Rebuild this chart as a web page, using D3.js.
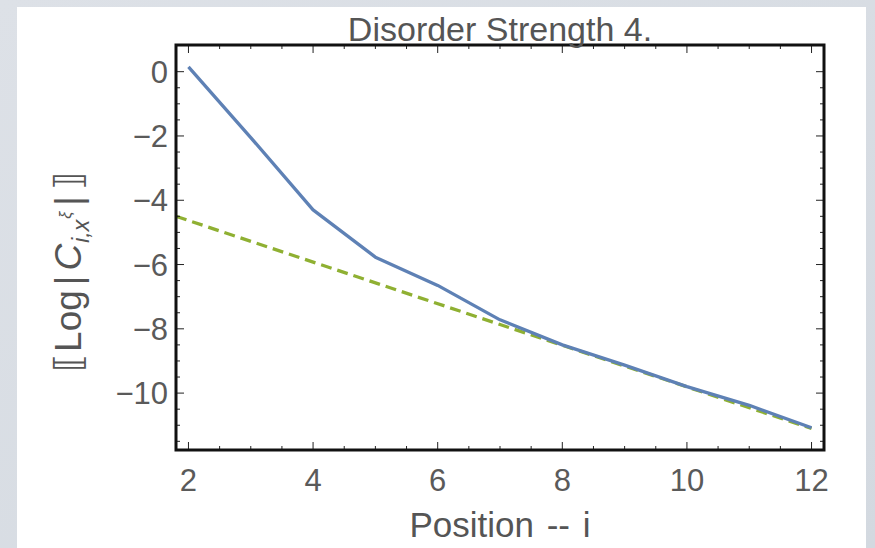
<!DOCTYPE html>
<html><head><meta charset="utf-8">
<script src="https://cdn.jsdelivr.net/npm/d3@7"></script>
<style>
html,body{margin:0;padding:0;}
body{width:875px;height:548px;overflow:hidden;background:#d9dee5;}
text{font-family:"Liberation Sans",Arial,sans-serif;}
</style></head>
<body>
<svg id="chart" width="875" height="548"></svg>
<script>
const title = "Disorder Strength 4.";
const xLabel = "Position -- i";
const positions = [2, 3, 4, 5, 6, 7, 8, 9, 10, 11, 12];
const correlation = [0.15, -2.05, -4.3, -5.77, -6.65, -7.72, -8.5, -9.13, -9.8, -10.38, -11.08];
const fitX = [1.8, 12];
const fitY = [-4.5, -11.1];
const xTicks = [2, 4, 6, 8, 10, 12];
const yTicks = [0, -2, -4, -6, -8, -10];

const svg = d3.select("#chart");
const defs = svg.append("defs");
const lg = defs.append("linearGradient").attr("id","bg").attr("x1","0").attr("y1","0").attr("x2","1").attr("y2","1");
lg.append("stop").attr("offset","0").attr("stop-color","#dde1e7");
lg.append("stop").attr("offset","1").attr("stop-color","#d3d9e0");
svg.append("rect").attr("width",875).attr("height",548).attr("fill","url(#bg)");
svg.append("rect").attr("x",17).attr("y",7).attr("width",849).attr("height",548).attr("fill","#ffffff");

const L = 176, R = 824, T = 45, B = 450;
const x = d3.scaleLinear().domain([1.8, 12.2]).range([L, R]);
const y = d3.scaleLinear().domain([-11.77, 0.83]).range([B, T]);

const clip = defs.append("clipPath").attr("id","clip");
clip.append("rect").attr("x",L).attr("y",T).attr("width",R-L).attr("height",B-T);

const g = svg.append("g");
const line = d3.line().x(d=>x(d[0])).y(d=>y(d[1]));
g.append("path").attr("clip-path","url(#clip)")
  .datum(fitX.map((v,i)=>[v, fitY[i]]))
  .attr("d", line).attr("fill","none").attr("stroke","#8fb032")
  .attr("stroke-width",3.3).attr("stroke-dasharray","11,6");
g.append("path").attr("clip-path","url(#clip)")
  .datum(positions.map((v,i)=>[v, correlation[i]]))
  .attr("d", line).attr("fill","none").attr("stroke","#5e81b5")
  .attr("stroke-width",3.3).attr("stroke-linejoin","round");

const tickCol = "#222";
const xMinor = d3.range(2, 12.01, 0.5);
const yMinor = d3.range(0, -11.51, -0.5);
xMinor.forEach(v=>{
  const major = Math.abs(v/2 - Math.round(v/2))<1e-6;
  const len = major?8:4;
  g.append("line").attr("x1",x(v)).attr("x2",x(v)).attr("y1",B).attr("y2",B-len).attr("stroke",tickCol).attr("stroke-width",1);
  g.append("line").attr("x1",x(v)).attr("x2",x(v)).attr("y1",T).attr("y2",T+len).attr("stroke",tickCol).attr("stroke-width",1);
});
yMinor.forEach(v=>{
  const major = Math.abs(v/2 - Math.round(v/2))<1e-6;
  const len = major?8:4;
  g.append("line").attr("y1",y(v)).attr("y2",y(v)).attr("x1",L).attr("x2",L+len).attr("stroke",tickCol).attr("stroke-width",1);
  g.append("line").attr("y1",y(v)).attr("y2",y(v)).attr("x1",R).attr("x2",R-len).attr("stroke",tickCol).attr("stroke-width",1);
});
g.append("rect").attr("x",L).attr("y",T).attr("width",R-L).attr("height",B-T)
  .attr("fill","none").attr("stroke","#111").attr("stroke-width",3);

const labCol = "#5a5a5a";
xTicks.forEach(v=>{
  svg.append("text").attr("x",x(v)).attr("y",491).attr("text-anchor","middle")
    .attr("font-size",31).attr("fill",labCol).text(String(v));
});
yTicks.forEach(v=>{
  svg.append("text").attr("x",168).attr("y",y(v)).attr("dy","0.36em").attr("text-anchor","end")
    .attr("font-size",31).attr("fill",labCol).text(v<0?"\u2212"+Math.abs(v):String(v));
});
svg.append("text").attr("x",500).attr("y",41).attr("text-anchor","middle")
  .attr("font-size",34).attr("fill","#555").text(title);
svg.append("text").attr("x",500).attr("y",537).attr("text-anchor","middle")
  .attr("font-size",35).attr("fill","#555").attr("word-spacing",3).text(xLabel);
const yl = svg.append("text").attr("transform","translate(81,272) rotate(-90)")
  .attr("text-anchor","middle").attr("font-size",37).attr("fill","#555");
yl.append("tspan").text("\u27E6");
yl.append("tspan").attr("dx",2).text("Log");
yl.append("tspan").attr("dx",5).text("|");
yl.append("tspan").attr("dx",5).attr("font-style","italic").text("C");
yl.append("tspan").attr("font-size",23).attr("dy",8).attr("dx",1).attr("font-style","italic").text("i,x");
yl.append("tspan").attr("font-size",16).attr("dy",-18).attr("dx",1).attr("font-style","italic").text("\u03BE");
yl.append("tspan").attr("dy",10).attr("dx",6).text("|");
yl.append("tspan").attr("dx",6).text("\u27E7");
</script>
</body></html>
